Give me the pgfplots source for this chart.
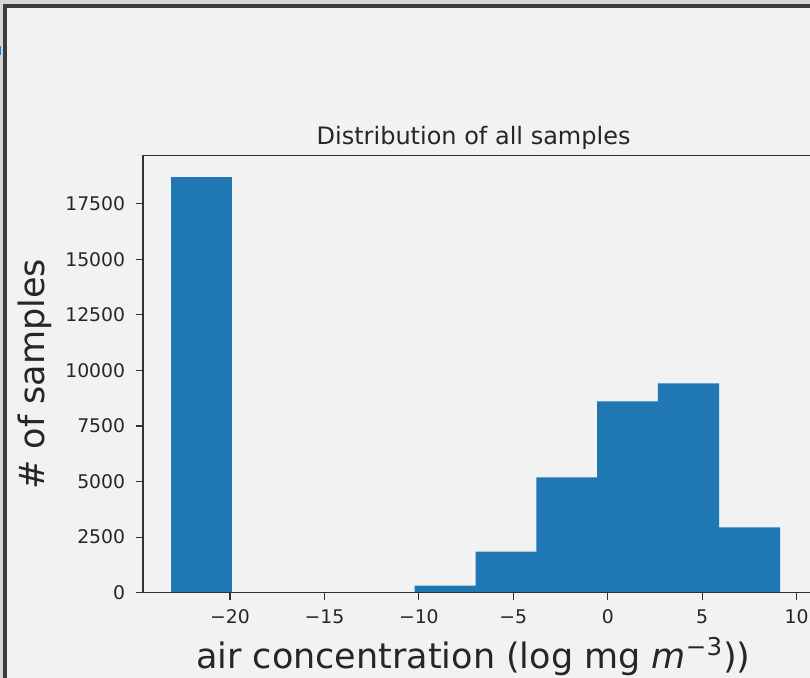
\documentclass[border=0pt]{standalone}
\usepackage{fontspec}
\setmainfont{DejaVu Sans}
\usepackage{pgfplots}
\pgfplotsset{compat=1.18}
\definecolor{bgc}{HTML}{F2F2F2}
\definecolor{strip}{HTML}{D6D6D6}
\definecolor{frame}{HTML}{3C3C3C}
\definecolor{barc}{HTML}{1F77B4}
\definecolor{spine}{HTML}{333333}
\definecolor{markb}{HTML}{1A7BD0}
\begin{document}
\begin{tikzpicture}
\useasboundingbox (0,0) rectangle (405pt,339pt);
\clip (0,0) rectangle (405pt,339pt);
\fill[strip] (0,0) rectangle (405pt,339pt);
\fill[frame] (1.65pt,0) rectangle (405pt,336.85pt);
\fill[bgc] (3.65pt,0) rectangle (405pt,334.85pt);
\fill[markb] (0,311.5pt) rectangle (0.65pt,316pt);
\begin{axis}[
  at={(71.35pt,42.65pt)}, anchor=south west,
  scale only axis, width=334.9pt, height=218.5pt,
  xmin=-24.62, xmax=10.84, ymin=0, ymax=19660,
  scaled y ticks=false, scaled x ticks=false,
  axis background/.style={fill=bgc},
  axis line style={spine, line width=0.8pt},
  axis on top,
  tick align=outside, major tick length=3.5pt,
  every tick/.style={spine, line width=0.6pt},
  xtick pos=bottom, ytick pos=left,
  xtick={-20,-15,-10,-5,0,5,10},
  xticklabels={−20,−15,−10,−5,0,5,10},
  ytick={0,2500,5000,7500,10000,12500,15000,17500},
  yticklabels={0,2500,5000,7500,10000,12500,15000,17500},
  ticklabel style={font=\fontsize{9.4pt}{11pt}\selectfont, text=black!85, inner sep=0pt},
  xticklabel style={anchor=base, yshift=-12.15pt},
  yticklabel style={anchor=east, xshift=-5.1pt},
  title={Distribution of all samples},
  every axis title/.style={font=\fontsize{12pt}{14pt}\selectfont, text=black!85, inner sep=0pt,
    at={(axis description cs:0.494,1)}, anchor=base, yshift=5.35pt},
  xlabel={air concentration (log mg \textit{m}\textsuperscript{−3}))},
  every axis x label/.style={font=\fontsize{17.5pt}{20pt}\selectfont, text=black!85, inner sep=0pt,
    at={(axis description cs:0.4935,0)}, anchor=base, yshift=-37.8pt},
  ylabel={\# of samples},
  every axis y label/.style={font=\fontsize{17.5pt}{20pt}\selectfont, text=black!85, inner sep=0pt,
    at={(axis description cs:0,0.5)}, xshift=-48.85pt, rotate=90, anchor=base},
]
\addplot[ybar interval, fill=barc, draw=none] coordinates {
  (-23.12,18700) (-19.90,0) (-16.68,0) (-13.45,0) (-10.23,315)
  (-7.00,1845) (-3.78,5190) (-0.56,8610) (2.66,9420) (5.89,2940) (9.12,0)
};
\end{axis}
\end{tikzpicture}
\end{document}
